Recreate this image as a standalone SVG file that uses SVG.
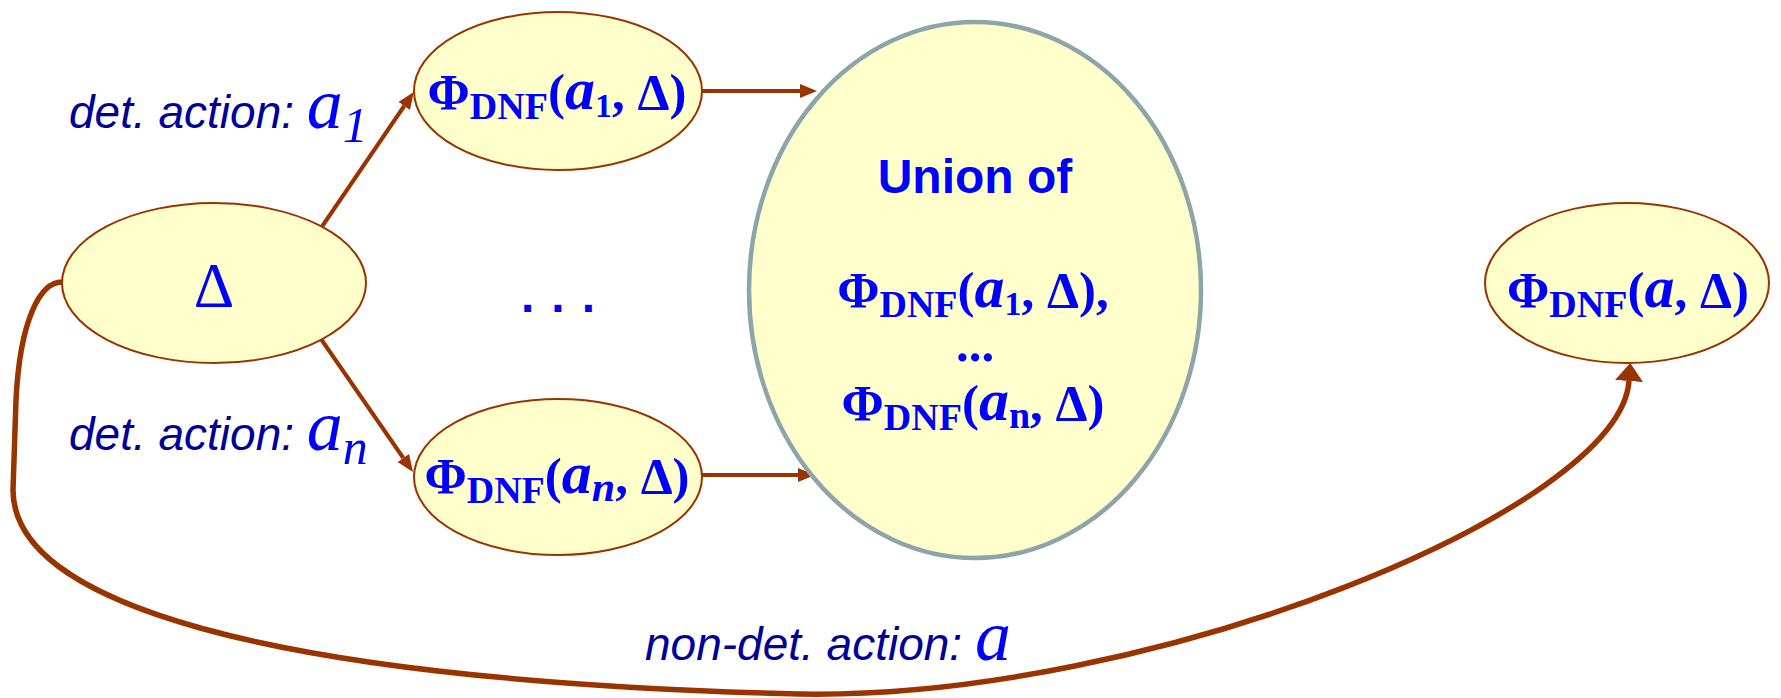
<svg xmlns="http://www.w3.org/2000/svg" width="1781" height="698" viewBox="0 0 1781 698">
<style>
.node{fill:#FFFFCC;stroke:#993300;stroke-width:2}
.union{fill:#FFFFCC;stroke:#8CA5A8;stroke-width:4.5}
.f{font-family:"Liberation Serif","Times New Roman",serif;font-weight:bold;fill:#0000FF;font-size:51px}
.lbl{font-family:"Liberation Sans",Arial,sans-serif;font-style:italic;fill:#000099;font-size:46px}
.var{font-family:"Liberation Serif","Times New Roman",serif;font-style:italic;fill:#0000FF}
.edge{stroke:#993300;stroke-width:4;fill:none}
.curve{stroke:#993300;stroke-width:5.5;fill:none}
</style>
<defs>
<marker id="ah" markerUnits="userSpaceOnUse" markerWidth="20" markerHeight="16" refX="0" refY="7" orient="auto" viewBox="0 0 20 14">
<path d="M0,0 L17,7 L0,14 z" fill="#993300"/>
</marker>
<marker id="ahBig" markerUnits="userSpaceOnUse" markerWidth="20" markerHeight="30" refX="0" refY="14" orient="auto" viewBox="0 0 20 28">
<path d="M0,0 L18,14 L0,28 z" fill="#993300"/>
</marker>
</defs>

<g id="connectors">
<path class="edge" d="M321,228 L404.2,106" marker-end="url(#ah)"/>
<path class="edge" d="M321,339 L403.3,458" marker-end="url(#ah)"/>
<path class="edge" d="M702,91 L800,91" marker-end="url(#ah)"/>
<path class="edge" d="M702,475 L798,475" marker-end="url(#ah)"/>
<path class="curve" d="M62,282 C40,282 20,320 16,400 L13,490 C13,600 250,680 800,694 C1150,700 1620,510 1629,381" marker-end="url(#ahBig)"/>
</g>

<g id="node-delta">
<ellipse class="node" cx="214" cy="283" rx="152" ry="80"/>
<text x="214" y="307" text-anchor="middle" font-family="Liberation Serif, Times New Roman, serif" font-size="63" fill="#0000FF">Δ</text>
</g>

<g id="node-phi-a1">
<ellipse class="node" cx="558" cy="91" rx="144" ry="79"/>
<text class="f" x="557" y="109" text-anchor="middle">Φ<tspan font-size="38" dy="10">DNF</tspan><tspan dy="-10">(</tspan><tspan font-style="italic" font-size="60">a</tspan><tspan font-size="34" dy="8">1</tspan><tspan dy="-8">, Δ)</tspan></text>
</g>

<g id="node-phi-an">
<ellipse class="node" cx="558" cy="477" rx="144" ry="78"/>
<text class="f" x="557" y="493" text-anchor="middle">Φ<tspan font-size="38" dy="10">DNF</tspan><tspan dy="-10">(</tspan><tspan font-style="italic" font-size="60">a</tspan><tspan font-style="italic" font-size="42" dy="8">n</tspan><tspan dy="-8">, Δ)</tspan></text>
</g>

<g id="node-union">
<ellipse class="union" cx="975" cy="290" rx="226" ry="268"/>
<text x="975" y="193" text-anchor="middle" font-family="Liberation Sans, Arial, sans-serif" font-weight="bold" font-size="48" fill="#0000FF">Union of</text>
<text class="f" x="973" y="307" text-anchor="middle">Φ<tspan font-size="38" dy="10">DNF</tspan><tspan dy="-10">(</tspan><tspan font-style="italic" font-size="60">a</tspan><tspan font-size="34" dy="8">1</tspan><tspan dy="-8">, Δ),</tspan></text>
<text class="f" x="975" y="361" text-anchor="middle">...</text>
<text class="f" x="973" y="420" text-anchor="middle">Φ<tspan font-size="38" dy="10">DNF</tspan><tspan dy="-10">(</tspan><tspan font-style="italic" font-size="60">a</tspan><tspan font-size="38" dy="8">n</tspan><tspan dy="-8">, Δ)</tspan></text>
</g>

<g id="node-phi-a">
<ellipse class="node" cx="1627" cy="283" rx="142" ry="80"/>
<text class="f" x="1628" y="307" text-anchor="middle">Φ<tspan font-size="38" dy="10">DNF</tspan><tspan dy="-10">(</tspan><tspan font-style="italic" font-size="60">a</tspan>, Δ)</text>
</g>

<g id="dots">
<text x="521" y="312" font-family="Liberation Sans, Arial, sans-serif" font-weight="bold" font-size="48" letter-spacing="17" fill="#0000FF">...</text>
</g>

<g id="labels">
<text class="lbl" x="69" y="128">det. action: <tspan class="var" font-size="72">a</tspan><tspan class="var" font-size="50" dy="14">1</tspan></text>
<text class="lbl" x="69" y="450">det. action: <tspan class="var" font-size="72">a</tspan><tspan class="var" font-size="50" dy="14">n</tspan></text>
<text class="lbl" x="645" y="660">non-det. action: <tspan class="var" font-size="72">a</tspan></text>
</g>
</svg>
